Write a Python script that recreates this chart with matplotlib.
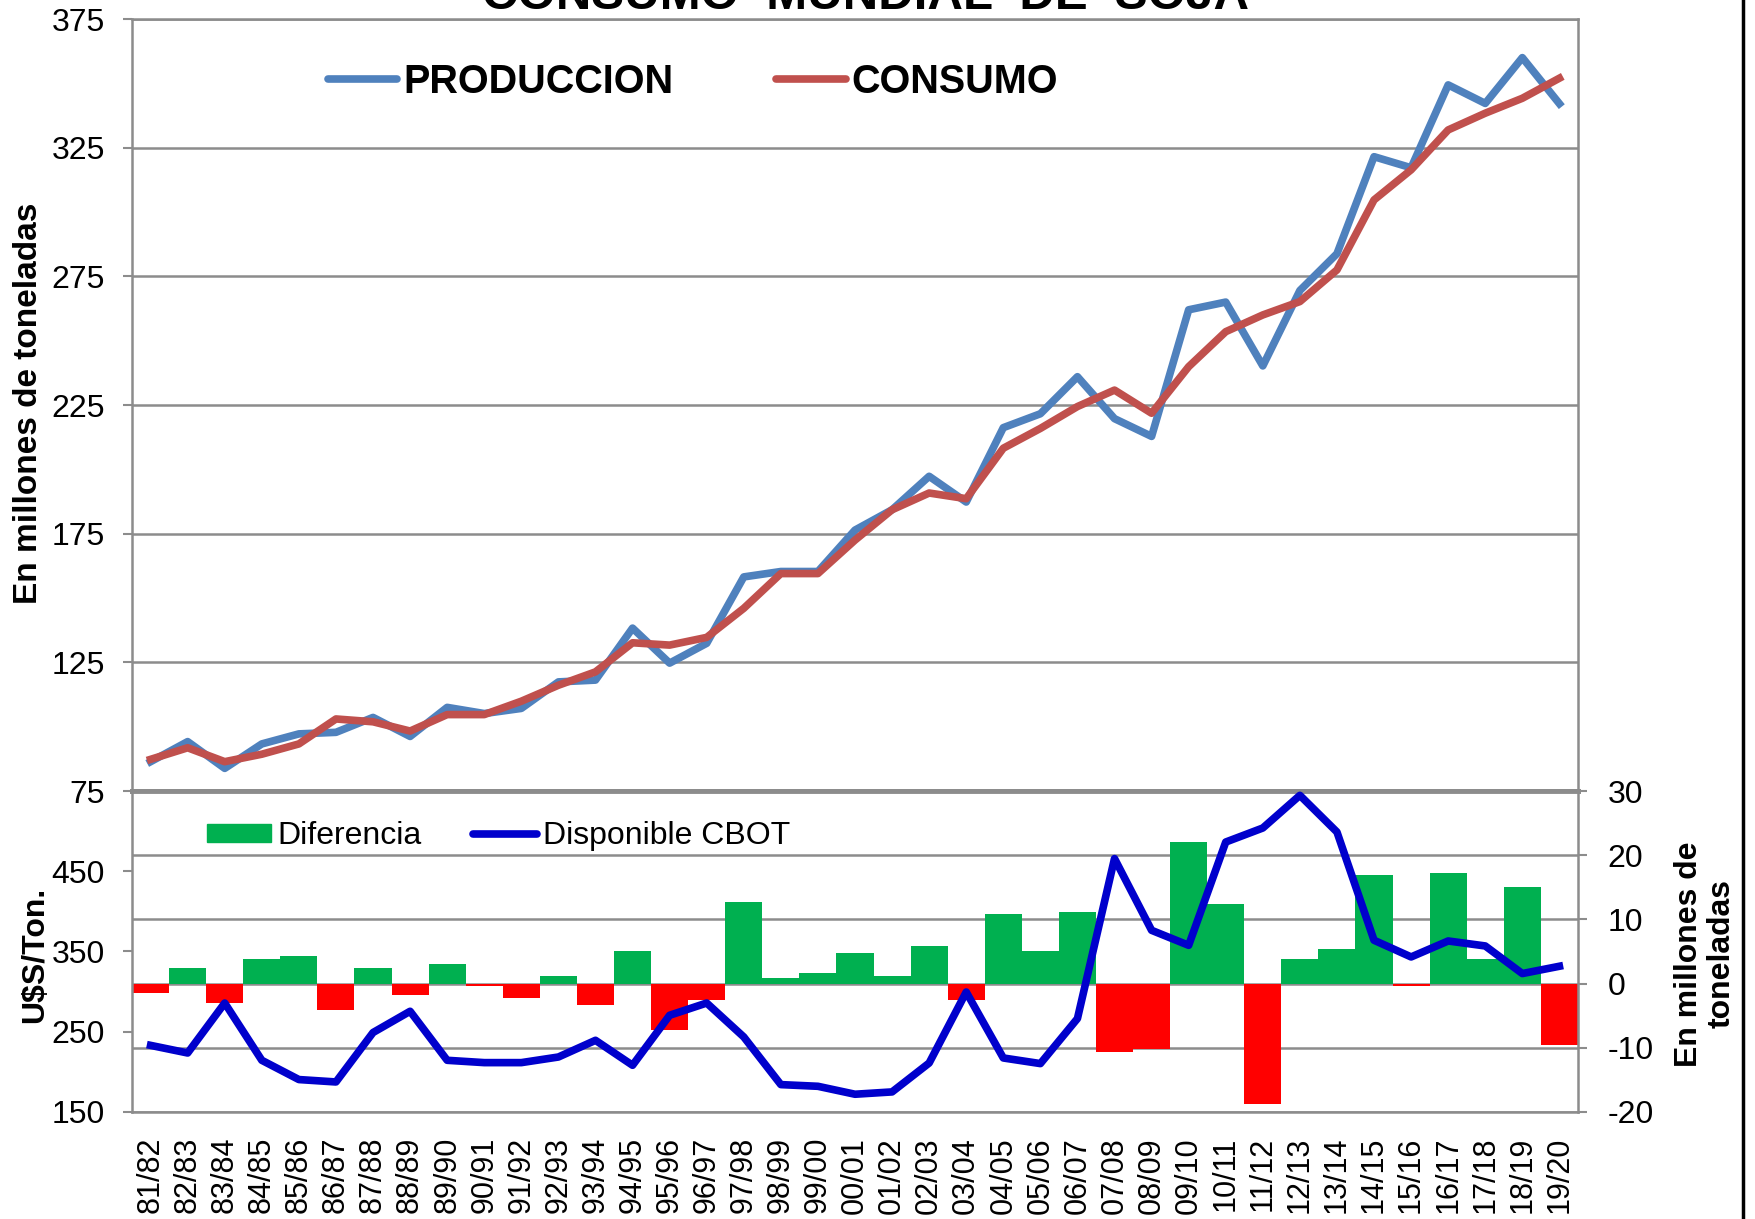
import matplotlib
matplotlib.use('Agg')
import matplotlib.pyplot as plt
from matplotlib.lines import Line2D
from matplotlib.patches import Patch

plt.rcParams['font.family'] = ['Liberation Sans', 'DejaVu Sans']
plt.rcParams['axes.unicode_minus'] = False

campanas = ['81/82', '82/83', '83/84', '84/85', '85/86', '86/87', '87/88', '88/89',
            '89/90', '90/91', '91/92', '92/93', '93/94', '94/95', '95/96', '96/97',
            '97/98', '98/99', '99/00', '00/01', '01/02', '02/03', '03/04', '04/05',
            '05/06', '06/07', '07/08', '08/09', '09/10', '10/11', '11/12', '12/13',
            '13/14', '14/15', '15/16', '16/17', '17/18', '18/19', '19/20']

produccion = [86.4, 94.2, 83.8, 93.3, 97.2, 97.8, 103.6, 96.2, 107.5, 105.1, 107.1, 117.4,
              118.1, 138.3, 124.7, 132.4, 158.2, 160.3, 160.3, 176.4, 184.3, 197.3, 187.3,
              216.2, 221.6, 236.0, 219.7, 212.8, 262.0, 265.0, 240.2, 269.5, 283.8, 321.5,
              317.2, 349.4, 342.2, 360.0, 342.1]

consumo = [87.3, 91.8, 86.4, 89.3, 93.3, 103.0, 101.9, 98.3, 104.7, 104.7, 109.9, 116.1,
           121.3, 132.6, 131.7, 134.7, 146.0, 159.5, 159.5, 172.5, 184.3, 190.8, 188.6,
           208.2, 215.9, 224.4, 230.8, 221.8, 239.9, 253.5, 260.0, 265.2, 277.5, 304.7,
           316.4, 331.9, 338.4, 344.2, 352.0]

diferencia = [-1.4, 2.4, -3.0, 3.9, 4.3, -4.1, 2.4, -1.8, 3.1, -0.3, -2.3, 1.2, -3.4, 5.1,
              -7.2, -2.6, 12.7, 0.8, 1.6, 4.7, 1.2, 5.9, -2.6, 10.9, 5.1, 11.2, -10.7,
              -10.2, 22.0, 12.4, -18.7, 3.9, 5.4, 16.9, -0.3, 17.3, 3.9, 15.0, -9.5]

cbot = [233, 223.5, 285.8, 214.4, 190.4, 187.4, 249, 275.5, 214.4, 211.5, 211.5, 218.5,
        239.3, 208.2, 270.5, 285.8, 243.5, 184.1, 182, 172.1, 175, 211, 299.5, 217.3,
        210.3, 266.4, 465.8, 376.4, 357.7, 486.4, 503.9, 544.6, 498.9, 364, 343.2,
        363.1, 356.9, 322.5, 331.6]

gris = '#8C8C8C'
x = list(range(len(campanas)))

fig = plt.figure(figsize=(17.56, 12.19), dpi=100)

# panel superior: produccion y consumo
ax = fig.add_axes([0.0752, 0.3511, 0.8234, 0.6333])
ax.plot(x, produccion, color='#4F81BD', lw=5.5, solid_joinstyle='round', zorder=3)
ax.plot(x, consumo, color='#C0504D', lw=5.5, solid_joinstyle='round', zorder=4)
ax.set_xlim(-0.5, len(campanas) - 0.5)
ax.set_ylim(75, 375)
ax.set_yticks(range(75, 376, 50))
ax.set_xticks([])
ax.grid(axis='y', color=gris, lw=1.8)
ax.set_axisbelow(True)
for s in ['left', 'right', 'top']:
    ax.spines[s].set_color(gris)
    ax.spines[s].set_linewidth(1.8)
ax.spines['bottom'].set_color(gris)
ax.spines['bottom'].set_linewidth(3.5)
ax.tick_params(axis='y', labelsize=23, length=6.5, width=1.5, color=gris, pad=13)

leg1 = ax.legend(handles=[Line2D([], [], color='#4F81BD', lw=5.5, solid_capstyle='round'),
                          Line2D([], [], color='#C0504D', lw=5.5, solid_capstyle='round')],
                 labels=['PRODUCCION', 'CONSUMO'], ncol=2, frameon=False,
                 loc='center left', bbox_to_anchor=(0.1868, 0.9327),
                 bbox_transform=fig.transFigure, borderpad=0, borderaxespad=0,
                 handlelength=1.75, handletextpad=0.15, columnspacing=2.6,
                 prop={'size': 28.5, 'weight': 'bold'})

# panel inferior: diferencia (eje derecho) y precio CBOT (eje izquierdo)
axb = fig.add_axes([0.0752, 0.0878, 0.8234, 0.2633])
colores = ['#00B050' if d >= 0 else '#FF0000' for d in diferencia]
axb.bar(x, diferencia, width=1.0, color=colores, zorder=2)
axb.set_xlim(-0.5, len(campanas) - 0.5)
axb.set_ylim(-20, 30)
axb.set_yticks(range(-20, 31, 10))
axb.grid(axis='y', color=gris, lw=1.8, zorder=0)
axb.set_axisbelow(True)
axb.set_xticks(x)
axb.set_xticklabels(campanas, rotation=90)
axb.tick_params(axis='x', labelsize=22, length=0, pad=18)
for s in axb.spines.values():
    s.set_color(gris)
    s.set_linewidth(1.8)
axb.spines['top'].set_linewidth(3.5)

axp = axb.twinx()
axp.plot(x, cbot, color='#0000CC', lw=5.5, solid_joinstyle='round', zorder=5)
axp.set_ylim(150, 550)
axp.set_yticks([150, 250, 350, 450])
axp.yaxis.tick_left()
axp.tick_params(axis='y', labelsize=23, length=6.5, width=1.5, color=gris, pad=13)
for s in axp.spines.values():
    s.set_visible(False)

# twinx deja el eje original a la izquierda: lo paso a la derecha
axb.yaxis.tick_right()
axb.tick_params(axis='y', labelsize=23, length=6.5, width=1.5, color=gris, pad=15)

leg2 = axp.legend(handles=[Patch(color='#00B050'),
                           Line2D([], [], color='#0000CC', lw=5.5, solid_capstyle='round')],
                  labels=['Diferencia', 'Disponible CBOT'], ncol=2, frameon=False,
                  loc='center left', bbox_to_anchor=(0.1179, 0.3142),
                  bbox_transform=fig.transFigure, borderpad=0, borderaxespad=0,
                  handlelength=2.0, handleheight=0.5, handletextpad=0.2,
                  columnspacing=1.6, prop={'size': 23})

# textos
fig.text(0.493, 0.9926, 'CONSUMO  MUNDIAL  DE  SOJA', ha='center', va='baseline',
         fontsize=35.5, fontweight='bold')
fig.text(0.016, 0.669, 'En millones de toneladas', rotation=90, ha='center', va='center',
         fontsize=24, fontweight='bold')
fig.text(0.020, 0.2166, 'U$S/Ton.', rotation=90, ha='center', va='center',
         fontsize=23, fontweight='bold')
fig.text(0.971, 0.2174, 'En millones de\ntoneladas', rotation=90, ha='center',
         va='center', multialignment='center', fontsize=23, fontweight='bold',
         linespacing=1.1)

fig.add_artist(Line2D([0.9926, 0.9926], [0, 1], transform=fig.transFigure,
                      color='black', lw=2.5))

fig.savefig('out.png', dpi=100)
